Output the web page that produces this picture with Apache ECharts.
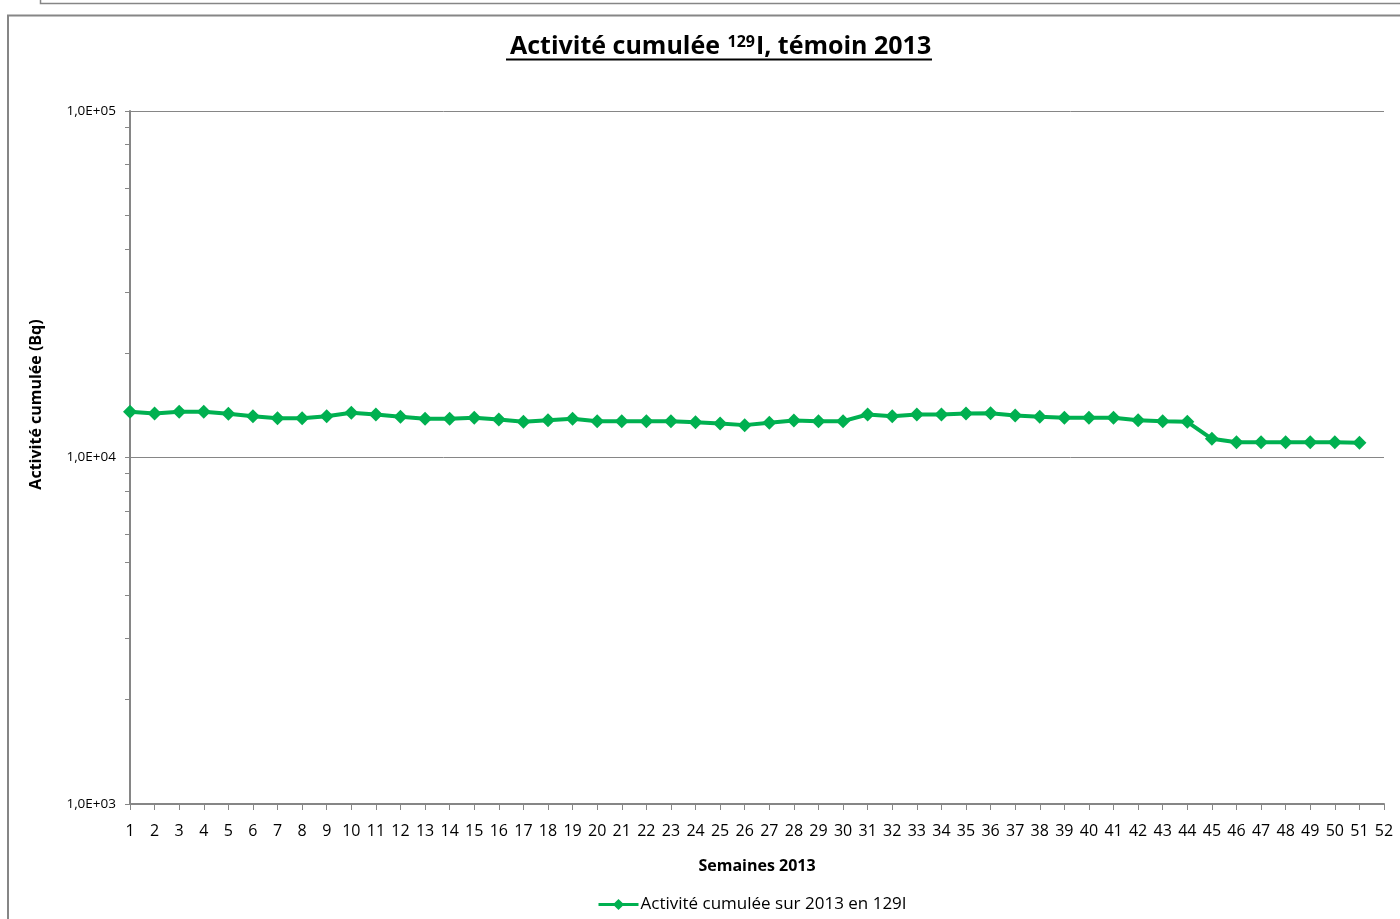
<!DOCTYPE html>
<html>
<head>
<meta charset="utf-8">
<script src="https://cdn.jsdelivr.net/npm/echarts@6/dist/echarts.min.js"></script>
<style>html,body{margin:0;padding:0;background:#fff}#c{width:1400px;height:919px}</style>
</head>
<body>
<div id="c"></div>
<script>
const weeks = Array.from({length: 52}, (_, i) => String(i + 1));
const activity = [13550, 13400, 13550, 13550, 13370, 13160, 12980, 12980, 13160, 13460,
  13310, 13110, 12930, 12930, 13020, 12870, 12680, 12810, 12930, 12730,
  12730, 12730, 12730, 12640, 12540, 12400, 12590, 12790, 12730, 12730,
  13310, 13160, 13310, 13310, 13400, 13420, 13220, 13110, 13020, 13020,
  13020, 12810, 12730, 12680, 11320, 11070, 11070, 11070, 11070, 11070, 11030];
const yTicks = [1000, 10000, 100000];
const yTickLabels = ['1,0E+03', '1,0E+04', '1,0E+05'];
const seriesName = 'Activité cumulée sur 2013 en 129I';

const minorTicks = [];
for (let d = 1000; d < 100000; d *= 10) {
  for (let k = 1; k <= 9; k++) minorTicks.push(d * k);
}
minorTicks.push(100000);

const FONT = 'Open Sans';
const GRAY = '#868686';
const chart = echarts.init(document.getElementById('c'));
chart.setOption({
  animation: false,
  textStyle: {fontFamily: FONT},
  title: {
    left: 505, top: 29,
    text: '{a|Activité cumulée }{s|129}{a|I, témoin 2013}',
    textStyle: {
      rich: {
        a: {fontFamily: FONT, fontWeight: 'bold', fontSize: 25, color: '#000'},
        s: {fontFamily: FONT, fontWeight: 'bold', fontSize: 16, color: '#000', verticalAlign: 'top', padding: [0, 1, 10, 1]}
      }
    }
  },
  graphic: [
    {type: 'line', shape: {x1: 506, y1: 59.5, x2: 932, y2: 59.5}, style: {stroke: '#000', lineWidth: 2}},
    {type: 'polyline', shape: {points: [[8, 919], [8, 15.5], [1400, 15.5]]}, style: {stroke: GRAY, lineWidth: 2, fill: null}},
    {type: 'polyline', shape: {points: [[40.5, 0], [40.5, 3.5], [1400, 3.5]]}, style: {stroke: GRAY, lineWidth: 1.5, fill: null}}
  ],
  legend: {
    left: 592, top: 891,
    itemWidth: 40, itemHeight: 14, itemGap: 10,
    lineStyle: {width: 3},
    textStyle: {fontFamily: FONT, fontSize: 17, color: '#000', padding: [0, 0, 0, -3]},
    data: [seriesName]
  },
  grid: {left: 130, right: 16, top: 111, bottom: 115, containLabel: false},
  xAxis: {
    type: 'category',
    data: weeks,
    boundaryGap: false,
    name: 'Semaines 2013',
    nameLocation: 'middle',
    nameGap: 54,
    nameTextStyle: {fontFamily: FONT, fontWeight: 'bold', fontSize: 16, color: '#000'},
    axisLine: {lineStyle: {color: GRAY, width: 2}},
    axisTick: {show: true, length: 6, lineStyle: {color: GRAY, width: 1}},
    axisLabel: {interval: 0, fontFamily: FONT, fontSize: 16, color: '#000', margin: 19},
    splitLine: {show: false}
  },
  yAxis: [{
    type: 'log',
    logBase: 10,
    min: 1000,
    max: 100000,
    name: 'Activité cumulée (Bq)',
    nameLocation: 'middle',
    nameGap: 86,
    nameTextStyle: {fontFamily: FONT, fontWeight: 'bold', fontSize: 16, color: '#000', padding: [0, 0, 0, 106]},
    axisLine: {show: true, lineStyle: {color: GRAY, width: 2}},
    axisTick: {show: true, length: 5, customValues: yTicks, lineStyle: {color: GRAY, width: 1}},
    axisLabel: {
      fontFamily: FONT, fontSize: 13.5, color: '#000', margin: 14,
      customValues: yTicks,
      formatter: v => {
        const i = yTicks.findIndex(t => Math.abs(t - v) / t < 1e-6);
        return i >= 0 ? yTickLabels[i] : '';
      }
    },
    splitLine: {show: true, lineStyle: {color: GRAY, width: 1}}
  }, {
    type: 'log',
    logBase: 10,
    min: 1000,
    max: 100000,
    position: 'left',
    offset: 0,
    axisLine: {show: false},
    axisTick: {show: true, length: 5, customValues: minorTicks, lineStyle: {color: GRAY, width: 1}},
    axisLabel: {show: false},
    splitLine: {show: false}
  }],
  series: [{
    name: seriesName,
    type: 'line',
    data: activity,
    symbol: 'diamond',
    symbolSize: 14,
    showSymbol: true,
    lineStyle: {color: '#00B050', width: 4},
    itemStyle: {color: '#00B050'}
  }]
});
</script>
</body>
</html>
